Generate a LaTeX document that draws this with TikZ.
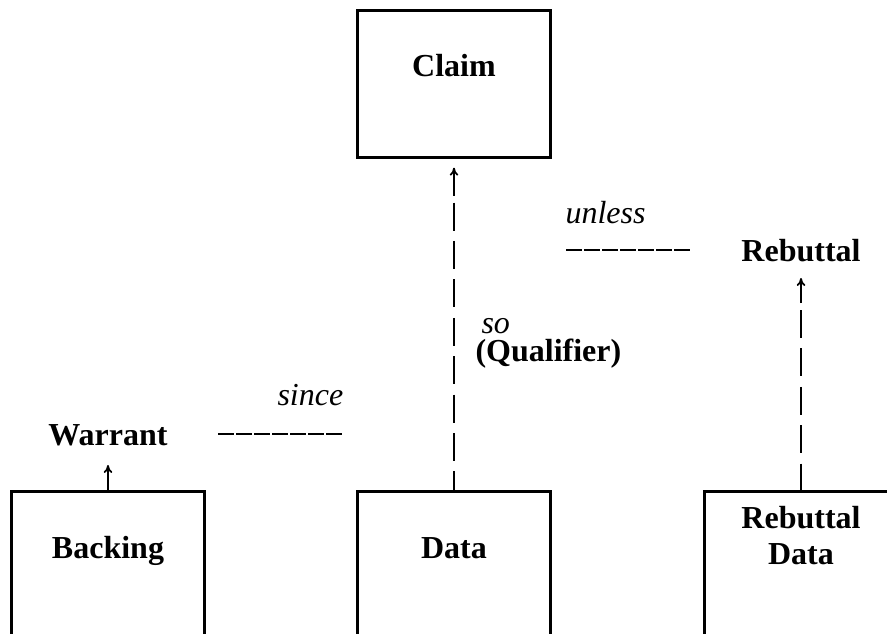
\documentclass[12pt,tikz,border=0pt]{standalone}
\usepackage{fontspec}
\setmainfont{Liberation Serif}
\usetikzlibrary{arrows.meta}
\usetikzlibrary{calc}

\begin{document}
\begin{tikzpicture}[x=0.375pt,y=-0.375pt,
    box/.style={draw,line width=1pt,anchor=north,inner sep=0pt,minimum width=72.4pt,minimum height=55.1pt,
                text height=25pt,text depth=30.1pt,font=\bfseries},
    title/.style={inner sep=0pt,anchor=base,font=\bfseries},
    cue/.style={inner sep=0pt,anchor=base west,font=\itshape},
    dashlink/.style={line width=0.65pt,dash pattern=on 10.5pt off 3.9pt},
    tip/.style={line width=0.65pt,-{To[length=3pt,width=3.2pt]}},
    rule/.style={line width=0.8pt,dash pattern=on 6pt off 0.75pt}]
\path[use as bounding box,clip] (0,0) rectangle (887,634);

% boxes
\node[box] (claim) at (454,9) {Claim};
\node[box] (backing) at (108,490) {Backing};
\node[box] (data) at (454,490) {Data};
\node[box,align=center,text height=27.4pt,text depth=27.7pt,font=\bfseries\fontsize{12}{13.5}\selectfont]
    (rebdata) at (801,490) {Rebuttal\\Data};

% loose labels
\node[title] (warrant) at (108,445) {Warrant};
\node[title] (rebuttal) at (801,262) {Rebuttal};
\node[cue] (since) at (277,405) {since};
\node[cue] (unless) at (565,223) {unless};
\node[cue] (so) at (481,333) {so};
\node[cue,font=\bfseries] (qualifier) at (475,361) {(Qualifier)};

% data -> claim
\draw[dashlink] ([yshift=-16.5pt]claim.south) -- (data.north);
\draw[tip] ([yshift=-13.9pt]claim.south) -- ([yshift=-3.4pt]claim.south);

% rebuttal data -> rebuttal
\draw[dashlink] ([yshift=-18pt]rebuttal.base) -- (rebdata.north);
\draw[tip] ([yshift=-15.4pt]rebuttal.base) -- ([yshift=-6pt]rebuttal.base);

% backing -> warrant
\draw[tip] (backing.north) -- ([yshift=-7.5pt]warrant.base);

% rules under since / unless
\draw[rule] (218,434) -- (343,434);
\draw[rule] (566,250) -- (691,250);
\end{tikzpicture}
\end{document}
